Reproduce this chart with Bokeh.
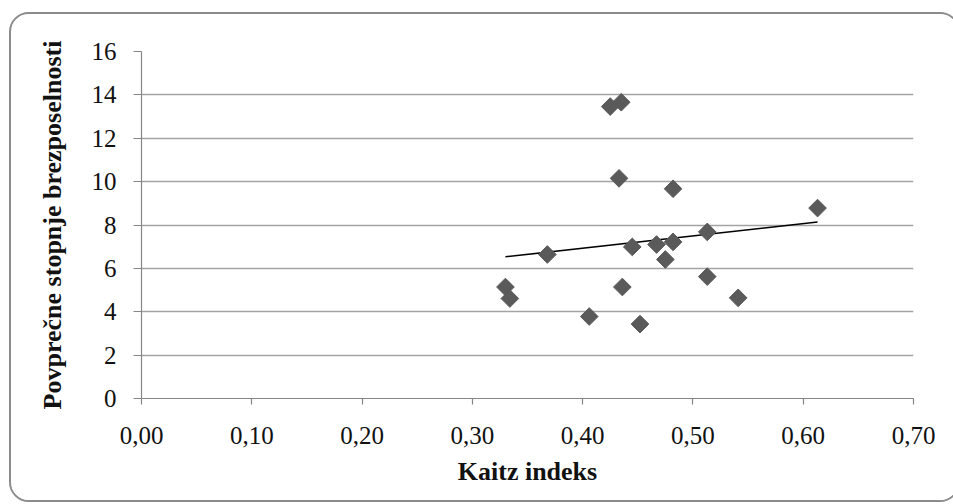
import numpy as np
from bokeh.plotting import figure
from bokeh.models import Range1d, FixedTicker, ColumnDataSource
from bokeh.embed import file_html
from bokeh.resources import INLINE

# Data
kaitz = [0.425, 0.435, 0.433, 0.368, 0.445, 0.467, 0.330, 0.334, 0.436,
         0.406, 0.452, 0.482, 0.613, 0.482, 0.475, 0.513, 0.513, 0.541]
unemployment = [13.46, 13.66, 10.15, 6.64, 6.99, 7.10, 5.14, 4.61, 5.14,
                3.78, 3.43, 9.67, 8.78, 7.22, 6.41, 7.68, 5.62, 4.64]

x_ticks = [0.0, 0.1, 0.2, 0.3, 0.4, 0.5, 0.6, 0.7]
x_tick_labels = ["0,00", "0,10", "0,20", "0,30", "0,40", "0,50", "0,60", "0,70"]
y_ticks = [0, 2, 4, 6, 8, 10, 12, 14, 16]

x_title = "Kaitz indeks"
y_title = "Povprečne stopnje brezposelnosti"

FONT = "Liberation Serif"

p = figure(width=951, height=490, output_backend="svg", toolbar_location=None,
           x_range=Range1d(0, 0.7), y_range=Range1d(0, 16),
           min_border_left=130, min_border_right=49,
           min_border_top=37, min_border_bottom=106)
p.styles = {"margin-left": "9px", "margin-top": "12px",
            "border": "2px solid #8c8c8c", "border-radius": "20px",
            "overflow": "hidden"}
p.outline_line_color = None
p.background_fill_color = "white"
p.border_fill_color = "white"

# grid
p.xgrid.visible = False
p.ygrid.ticker = FixedTicker(ticks=y_ticks)
p.ygrid.grid_line_color = "#a3a3a3"
p.ygrid.grid_line_width = 1.5

# x axis
p.xaxis.ticker = FixedTicker(ticks=x_ticks)
p.xaxis.major_label_overrides = {t: l for t, l in zip(x_ticks, x_tick_labels)}
p.xaxis.axis_label = x_title
p.xaxis.major_tick_in = 0
p.xaxis.major_tick_out = 6
p.xaxis.minor_tick_out = 0
p.xaxis.minor_tick_in = 0
p.xaxis.major_label_standoff = 22
p.xaxis.axis_label_standoff = 10

# y axis
p.yaxis.ticker = FixedTicker(ticks=y_ticks)
p.yaxis.major_label_overrides = {t: str(t) for t in y_ticks}
p.yaxis.axis_label = y_title
p.yaxis.major_tick_in = 0
p.yaxis.major_tick_out = 8
p.yaxis.minor_tick_out = 0
p.yaxis.minor_tick_in = 0
p.yaxis.major_label_standoff = 17
p.yaxis.axis_label_standoff = 22

for ax in (p.xaxis, p.yaxis):
    ax.axis_line_color = "#868686"
    ax.axis_line_width = 1.2
    ax.major_tick_line_color = "#868686"
    ax.major_tick_line_width = 1.2
    ax.major_label_text_font = FONT
    ax.major_label_text_font_size = "25px"
    ax.major_label_text_color = "#111111"
    ax.axis_label_text_font = FONT
    ax.axis_label_text_font_size = "26px"
    ax.axis_label_text_font_style = "bold"
    ax.axis_label_text_color = "#111111"

# trend line (least squares from the data)
slope, intercept = np.polyfit(kaitz, unemployment, 1)
tx = [min(kaitz), max(kaitz)]
ty = [slope * v + intercept for v in tx]
p.line(tx, ty, line_color="black", line_width=1.5)

src = ColumnDataSource(dict(x=kaitz, y=unemployment))
p.scatter("x", "y", source=src, marker="square", angle=np.pi / 4, size=12.5,
          fill_color="#5a5a5a", line_color="#5a5a5a", line_width=1)

open("out.html", "w").write(file_html(p, INLINE))
